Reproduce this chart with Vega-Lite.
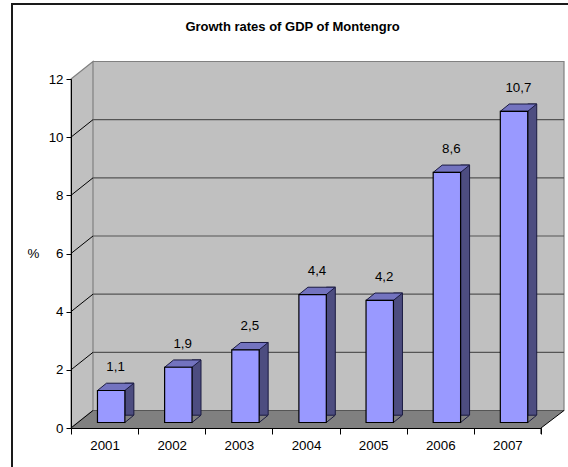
{"$schema":"https://vega.github.io/schema/vega-lite/v6.json","width":470,"height":349,"autosize":"none","padding":{"left":71,"top":79,"right":27,"bottom":39},"background":"white","config":{"view":{"stroke":null},"font":"Liberation Sans"},
"datasets":{"rates":[{"year":"2001","growth":1.1,"label":"1,1"},{"year":"2002","growth":1.9,"label":"1,9"},{"year":"2003","growth":2.5,"label":"2,5"},{"year":"2004","growth":4.4,"label":"4,4"},{"year":"2005","growth":4.2,"label":"4,2"},{"year":"2006","growth":8.6,"label":"8,6"},{"year":"2007","growth":10.7,"label":"10,7"}],"levels":[{"level":0},{"level":2},{"level":4},{"level":6},{"level":8},{"level":10}],"one":[{"level":0,"heading":"Growth rates of GDP of Montengro"}]},
"data":{"name":"rates"},
"encoding":{"x":{"field":"year","type":"nominal","scale":{"type":"band","domain":["2001","2002","2003","2004","2005","2006","2007"],"paddingInner":0,"paddingOuter":0},"axis":{"title":null,"labelAngle":0,"labelFont":"Liberation Sans","labelFontSize":13.33,"labelColor":"#000000","labelPadding":4,"tickColor":"#000000","domainColor":"#000000","tickSize":6,"tickBand":"extent","zindex":1}},"y":{"field":"growth","type":"quantitative","scale":{"domain":[0,12],"nice":false,"zero":true},"axis":{"title":"%","titleAngle":0,"titleFont":"Liberation Sans","titleFontSize":13.33,"titleFontWeight":"normal","titleColor":"#000000","titleX":-38,"titleY":174,"titleAlign":"center","titleBaseline":"middle","values":[0,2,4,6,8,10,12],"grid":false,"labelFont":"Liberation Sans","labelFontSize":13.33,"labelColor":"#000000","labelPadding":3,"tickColor":"#000000","domainColor":"#000000","tickSize":5,"zindex":1}}},
"layer":[
{"data":{"name":"one"},"mark":{"type":"point","size":4,"opacity":1,"filled":false,"fill":null,"stroke":"#1a1a1a","strokeWidth":2,"shape":"M-294,41 L-294,-424 L263,-424"},"encoding":{"x":{"datum":"2004","type":"nominal"},"y":{"field":"level","type":"quantitative"}}},
{"data":{"name":"one"},"mark":{"type":"text","font":"Liberation Sans","fontSize":13,"fontWeight":"bold","color":"#000000","align":"center","baseline":"middle","xOffset":-13.5,"yOffset":-401},"encoding":{"x":{"datum":"2004","type":"nominal"},"y":{"field":"level","type":"quantitative"},"text":{"field":"heading","type":"nominal"}}},
{"data":{"name":"one"},"mark":{"type":"point","size":4,"opacity":1,"filled":true,"fill":"#c0c0c0","stroke":"#808080","strokeWidth":1.2,"shape":"M-213,-366.5 L258,-366.5 L258,-17.5 L-213,-17.5 Z M-235,-349 L-213,-366.5 L-213,-17.5 L-235,0 Z"},"encoding":{"x":{"datum":"2004","type":"nominal"},"y":{"field":"level","type":"quantitative"}}},
{"data":{"name":"one"},"mark":{"type":"point","size":4,"opacity":1,"filled":true,"fill":"#808080","strokeWidth":0,"shape":"M-235,0 L235,0 L258,-17.5 L-213,-17.5 Z"},"encoding":{"x":{"datum":"2004","type":"nominal"},"y":{"field":"level","type":"quantitative"}}},
{"data":{"name":"levels"},"mark":{"type":"point","size":4,"opacity":1,"filled":false,"fill":null,"stroke":"#555555","strokeWidth":1.2,"shape":"M-213,-17.5 L258,-17.5"},"encoding":{"x":{"datum":"2004","type":"nominal"},"y":{"field":"level","type":"quantitative"}}},
{"data":{"name":"levels"},"mark":{"type":"point","size":4,"opacity":1,"filled":false,"fill":null,"stroke":"#000000","strokeWidth":1,"shape":"M-235,0 L-213,-17.5"},"encoding":{"x":{"datum":"2004","type":"nominal"},"y":{"field":"level","type":"quantitative"}}},
{"data":{"name":"one"},"mark":{"type":"point","size":4,"opacity":1,"filled":false,"fill":null,"stroke":"#000000","strokeWidth":1,"shape":"M235,0 L235,6 M235,0 L258,-17.5"},"encoding":{"x":{"datum":"2004","type":"nominal"},"y":{"field":"level","type":"quantitative"}}},
{"mark":{"type":"bar","size":9,"xOffset":24.8,"yOffset":-12.8,"y2Offset":-5.5,"fill":"#4d4d80","stroke":"#1a1a40","strokeWidth":1}},
{"mark":{"type":"point","size":4,"opacity":1,"filled":true,"fill":"#808080","strokeWidth":0,"shape":"M20.3,-5.5 L29.3,-12.8 L31.5,-12.8 L31.5,-3.5 L19.3,-3.5 Z"},"encoding":{"y":{"datum":0,"type":"quantitative"}}},
{"mark":{"type":"point","size":4,"opacity":1,"filled":false,"fill":null,"stroke":"#1a1a40","strokeWidth":1,"shape":"M20.3,-5.5 L29.3,-12.8"},"encoding":{"y":{"datum":0,"type":"quantitative"}}},
{"mark":{"type":"point","size":4,"opacity":1,"filled":true,"fill":"#7373bf","stroke":"#1a1a40","strokeWidth":1,"shape":"M-7.1,-5.5 L20.3,-5.5 L29.3,-12.8 L1.9,-12.8 Z"}},
{"mark":{"type":"bar","size":27.4,"xOffset":6.6,"yOffset":-5.5,"y2Offset":-5.5,"fill":"#9999ff","stroke":"#000000","strokeWidth":1.2}},
{"mark":{"type":"text","font":"Liberation Sans","fontSize":13.33,"color":"#000000","xOffset":11,"yOffset":-29,"baseline":"middle","align":"center"},"encoding":{"text":{"field":"label","type":"nominal"}}}
]}
